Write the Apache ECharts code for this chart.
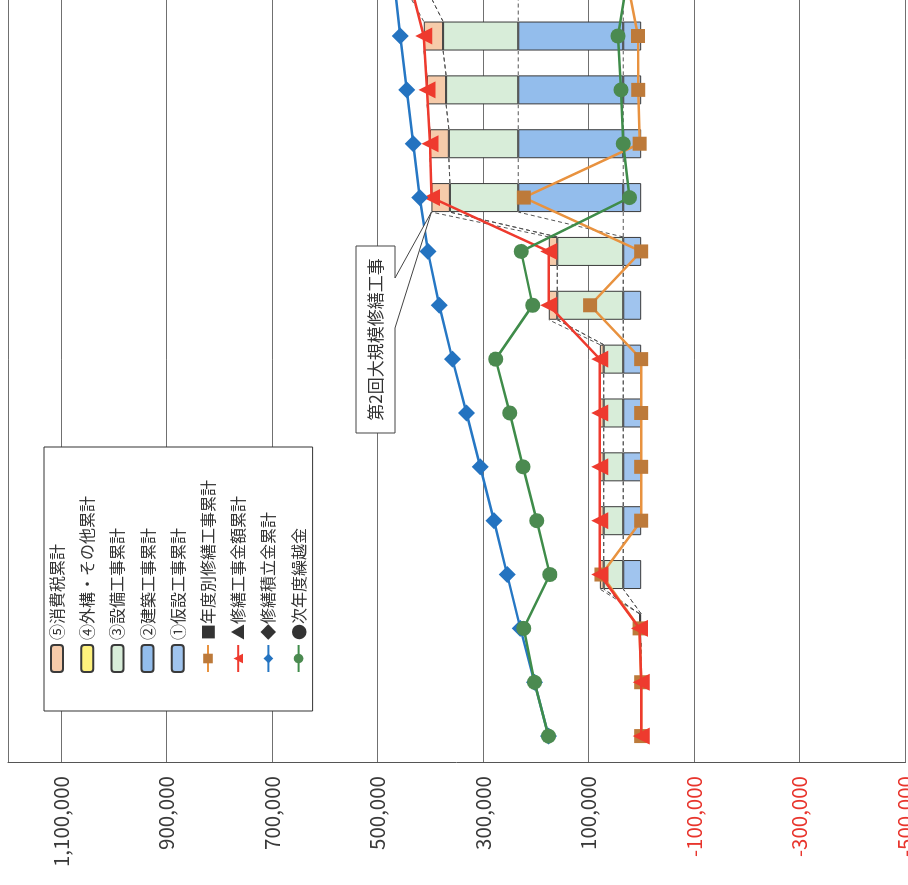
<!DOCTYPE html>
<html>
<head>
<meta charset="utf-8">
<script src="https://cdn.jsdelivr.net/npm/echarts@6/dist/echarts.min.js"></script>
<style>
  html, body { margin: 0; padding: 0; background: #fff; overflow: hidden; }
  #frame { position: absolute; left: 0; top: 0; width: 908px; height: 885px; overflow: hidden; background: #fff; }
  /* the chart is laid out upright and turned a quarter turn counter-clockwise */
  #chart { position: absolute; left: 0; top: 0; width: 940px; height: 908px;
           transform-origin: 0 0; transform: translateY(885px) rotate(-90deg); }
</style>
</head>
<body>
<div id="frame"><div id="chart"></div></div>
<script>
// ---- data (yen, cumulative unless noted) ----
const years = ['1年', '2年', '3年', '4年', '5年', '6年', '7年', '8年', '9年', '10年', '11年', '12年', '13年', '14年', '15年'];

const kasetsu  = [0, 0, 0, 34000, 34000, 34000, 34000, 34000, 34000, 34000, 34000, 34000, 34000, 34000, 34000];      // ①仮設
const kenchiku = [0, 0, 0, 0, 0, 0, 0, 0, 0, 0, 199000, 199000, 199000, 199000, 199000];                               // ②建築
const setsubi  = [0, 0, 2700, 37000, 37000, 37000, 37000, 37000, 125000, 125000, 129500, 131500, 136700, 142400, 166000]; // ③設備
const gaiko    = [0, 0, 0, 0, 0, 0, 0, 0, 0, 0, 0, 0, 0, 0, 0];                                                        // ④外構・その他
const shohizei = [0, 0, 300, 7300, 7300, 7300, 7300, 7300, 16100, 16100, 35000, 35900, 36300, 36600, 39000];           // ⑤消費税

const nendobetsu = [0, 0, 3000, 75300, 0, 0, 0, 0, 96800, 0, 222400, 2900, 5600, 6000, 26000];                          // 年度別修繕工事
const kojiRuikei = [0, 0, 3000, 78300, 78300, 78300, 78300, 78300, 175100, 175100, 397500, 400400, 406000, 412000, 438000]; // 修繕工事金額累計
const tsumitate  = [175600, 202300, 229000, 254000, 278800, 305000, 331000, 357800, 382600, 404200, 419700, 431800, 444100, 456500, 468000]; // 修繕積立金累計
const kurikoshi  = [175600, 202300, 222700, 173100, 197900, 224100, 249000, 275800, 205700, 227500, 22000, 34100, 38300, 44100, 27300];        // 次年度繰越金

const axisLabelValues = [-500000, -300000, -100000, 100000, 300000, 500000, 700000, 900000, 1100000];
const gridValues = [-500000, -300000, -100000, 100000, 300000, 500000, 700000, 900000, 1100000, 1200000];

const calloutText = '第2回大規模修繕工事';
const calloutIndex = 10;

// ---- stack boundaries for the dashed connectors between neighbouring bars ----
const stacks = [kasetsu, kenchiku, setsubi, gaiko, shohizei];
const tops = years.map((_, i) => {
  let s = 0;
  return stacks.map(arr => (s += arr[i]));
});
const connectorRows = [];
for (let i = 0; i < years.length - 1; i++) {
  connectorRows.push([i].concat(tops[i], tops[i + 1]));
}

// empty segments are left out so they do not leave a stray outline
const barData = arr => arr.map(v => (v === 0 ? null : v));

const FONT = '"Noto Sans CJK JP", "Noto Sans", sans-serif';
const BAR_W = 29;
const barStyle = c => ({ color: c, borderColor: '#3a3a3a', borderWidth: 1 });

const chart = echarts.init(document.getElementById('chart'), null, { renderer: 'canvas' });

const names = {
  k1: '①仮設工事累計', k2: '②建築工事累計', k3: '③設備工事累計', k4: '④外構・その他累計', k5: '⑤消費税累計',
  l1: '■年度別修繕工事累計', l2: '▲修繕工事金額累計', l3: '◆修繕積立金累計', l4: '●次年度繰越金'
};

chart.setOption({
  animation: false,
  backgroundColor: '#ffffff',
  grid: { left: 122, top: 8, width: 53.85 * years.length, height: 897, containLabel: false, outerBoundsMode: 'none' },
  xAxis: {
    type: 'category',
    data: years,
    axisLine: { show: false },
    axisTick: { show: false },
    axisLabel: { show: false },
    splitLine: { show: false }
  },
  yAxis: {
    type: 'value',
    min: -500000,
    max: 1200000,
    axisLine: { show: true, lineStyle: { color: '#555', width: 1 } },
    axisTick: { show: false, customValues: gridValues },
    splitLine: { show: true, lineStyle: { color: '#707070', width: 1 } },
    axisLabel: {
      customValues: axisLabelValues,
      margin: 13,
      fontFamily: FONT,
      fontSize: 20.5,
      color: v => (Number(v) < 0 ? '#e8352d' : '#3a3a3a'),
      formatter: v => Number(v).toLocaleString('en-US')
    }
  },
  legend: {
    orient: 'vertical',
    left: 174,
    top: 44,
    data: [names.k5, names.k4, names.k3, names.k2, names.k1, names.l1, names.l2, names.l3, names.l4],
    itemWidth: 27,
    itemHeight: 12,
    itemGap: 12.2,
    padding: [4, 33, 5, 38],
    borderColor: '#333',
    borderWidth: 1,
    backgroundColor: '#fff',
    selectedMode: false,
    textStyle: { fontFamily: FONT, fontSize: 16, lineHeight: 18, color: '#333' }
  },
  series: [
    { name: names.k1, type: 'bar', stack: 'cost', barWidth: BAR_W, data: barData(kasetsu), itemStyle: barStyle('#a0c4ee') },
    { name: names.k2, type: 'bar', stack: 'cost', barWidth: BAR_W, data: barData(kenchiku), itemStyle: barStyle('#93bdec') },
    { name: names.k3, type: 'bar', stack: 'cost', barWidth: BAR_W, data: barData(setsubi), itemStyle: barStyle('#d8edd9') },
    { name: names.k4, type: 'bar', stack: 'cost', barWidth: BAR_W, data: barData(gaiko), itemStyle: barStyle('#fff27d') },
    { name: names.k5, type: 'bar', stack: 'cost', barWidth: BAR_W, data: barData(shohizei), itemStyle: barStyle('#f6cbaa') },
    {
      name: 'connectors',
      type: 'custom',
      data: connectorRows,
      encode: { x: 0, y: [1, 2, 3, 4, 5] },
      silent: true,
      z: 1,
      renderItem: (params, api) => {
        const i = api.value(0);
        const children = [];
        for (let k = 0; k < 5; k++) {
          const a = api.coord([i, api.value(1 + k)]);
          const b = api.coord([i + 1, api.value(6 + k)]);
          children.push({
            type: 'line',
            shape: { x1: a[0] + BAR_W / 2, y1: a[1], x2: b[0] - BAR_W / 2, y2: b[1] },
            style: { stroke: '#555', lineWidth: 1, lineDash: [4, 3] }
          });
        }
        return { type: 'group', children };
      }
    },
    {
      name: names.l1, type: 'line', data: nendobetsu, symbol: 'rect', symbolSize: 14, showAllSymbol: true, z: 3,
      lineStyle: { color: '#e8923f', width: 2.5 }, itemStyle: { color: '#bd7a3a' }
    },
    {
      name: names.l2, type: 'line', data: kojiRuikei, symbol: 'triangle', symbolSize: 17, showAllSymbol: true, z: 4,
      lineStyle: { color: '#ee3a2e', width: 2.5 }, itemStyle: { color: '#ee3a2e' }
    },
    {
      name: names.l3, type: 'line', data: tsumitate, symbol: 'diamond', symbolSize: 17, showAllSymbol: true, z: 5,
      lineStyle: { color: '#2677c4', width: 2.5 }, itemStyle: { color: '#2473c0' }
    },
    {
      name: names.l4, type: 'line', data: kurikoshi, symbol: 'circle', symbolSize: 15, showAllSymbol: true, z: 6,
      lineStyle: { color: '#3f8c4a', width: 2.5 }, itemStyle: { color: '#4b8a50' }
    }
  ]
});

// callout box pointing at the corner of the second major repair bar
const total = tops[calloutIndex][4];
const p = chart.convertToPixel({ gridIndex: 0 }, [calloutIndex, total]);
const ax = p[0] - BAR_W / 2, ay = p[1];
const bx = 452, by = 356, bw = 187, bh = 39;
chart.setOption({
  graphic: [
    {
      type: 'polygon',
      z: 100,
      shape: { points: [[bx, by], [bx + bw, by], [bx + bw, by + bh], [607, by + bh], [ax, ay], [557, by + bh], [bx, by + bh]] },
      style: { fill: '#fff', stroke: '#444', lineWidth: 1 }
    },
    {
      type: 'text',
      z: 101,
      x: bx + bw / 2,
      y: by + bh / 2,
      style: { text: calloutText, fontFamily: FONT, fontSize: 17, fill: '#333', align: 'center', verticalAlign: 'middle' }
    }
  ]
});
</script>
</body>
</html>
